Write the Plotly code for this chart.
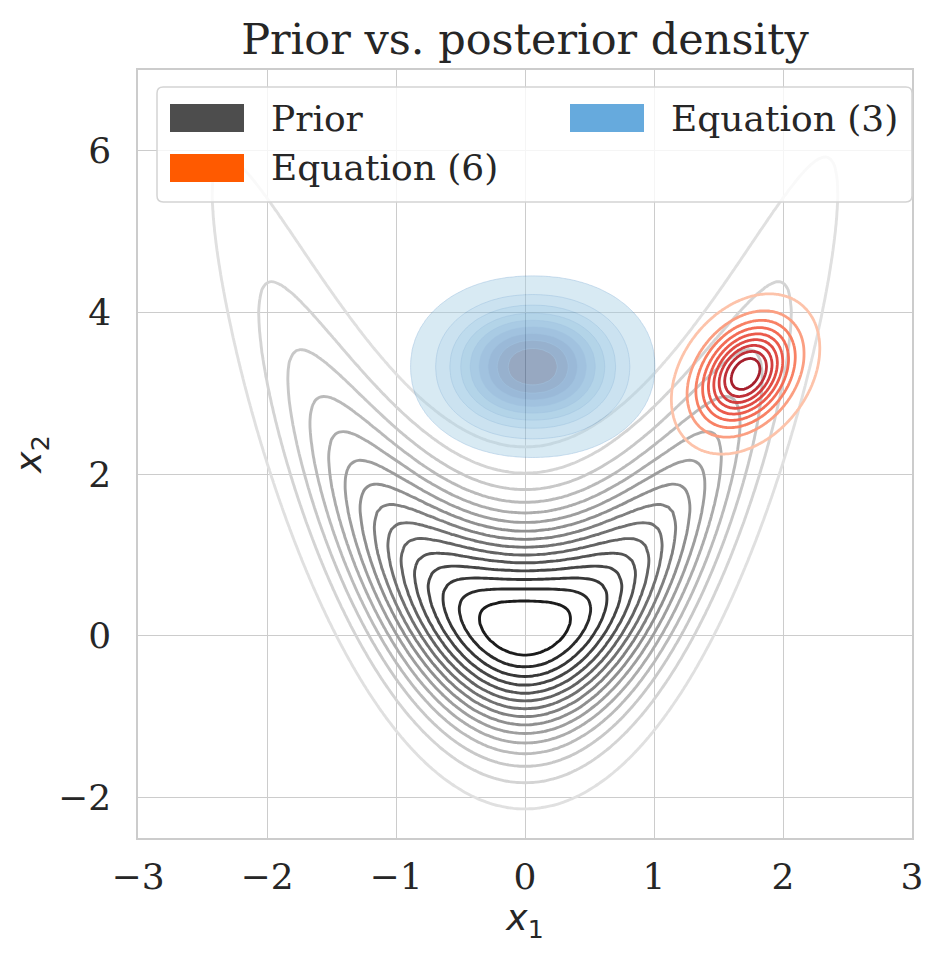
import numpy as np
import plotly.graph_objects as go

# prior: banana shaped, x1 ~ N(0, sd1) and x2 - bend * x1^2 ~ N(shift, sd2),
# smoothed with a kde-like gaussian kernel
prior_center = [0.0, 0.06]
prior_sd = [1.0, 0.84]
prior_bend = 1.0
prior_bandwidth = [0.2, 0.28]
prior_levels = 16

# posterior of Equation (3), filled contours (a little squarish, power > 2)
eq3_center = [0.06, 3.33]
eq3_scale = [0.414, 0.491]
eq3_power = 2.12
eq3_levels = 10

# posterior of Equation (6), line contours
eq6_center = [1.71, 3.24]
eq6_sd = [0.235, 0.405]
eq6_corr = 0.32
eq6_levels = 10

thresh = 0.05

legend_names = ["Prior", "Equation (6)", "Equation (3)"]
legend_colors = ["#4d4d4d", "#ff5a00", "#66aadd"]

x_ticks = [-3, -2, -1, 0, 1, 2, 3]
y_ticks = [-2, 0, 2, 4, 6]

grey_stops = ["#e0e0e0", "#c4c4c4", "#a3a3a3", "#808080", "#5e5e5e", "#3c3c3c", "#1c1c1c"]
red_stops = ["#fdc3aa", "#fb9a7c", "#f7795c", "#f06450", "#e55247", "#d74240", "#c2323a", "#a6202d"]
blues_cmap = ["#f7fbff", "#deebf7", "#c6dbef", "#9ecae1", "#6baed6", "#4292c6", "#2171b5", "#08519c", "#08306b"]


def hex_rgb(h):
    h = h.lstrip("#")
    return [int(h[i:i + 2], 16) for i in (0, 2, 4)]


def sample(stops, t):
    pos = t * (len(stops) - 1)
    i = min(int(pos), len(stops) - 2)
    f = pos - i
    a, b = hex_rgb(stops[i]), hex_rgb(stops[i + 1])
    c = [round(a[k] + (b[k] - a[k]) * f) for k in range(3)]
    return "rgb(%d,%d,%d)" % tuple(c)


def gauss2d(X, Y, c, sd, rho):
    u = (X - c[0]) / sd[0]
    v = (Y - c[1]) / sd[1]
    return np.exp(-0.5 * (u * u - 2 * rho * u * v + v * v) / (1 - rho ** 2))


def power2d(X, Y, c, sc, a):
    u = np.abs(X - c[0]) / sc[0]
    v = np.abs(Y - c[1]) / sc[1]
    return np.exp(-0.5 * (u ** a + v ** a))


def smooth(d, h, step, axis):
    n = int(4 * h / step)
    t = np.arange(-n, n + 1) * step
    k = np.exp(-0.5 * (t / h) ** 2)
    k /= k.sum()
    return np.apply_along_axis(lambda r: np.convolve(r, k, mode="same"), axis, d)


def proportions(d):
    # iso-proportion transform, like seaborn's kdeplot levels
    flat = np.sort(d.ravel())
    cum = np.cumsum(flat)
    cum /= cum[-1]
    return np.round(np.interp(d, flat, cum), 4)


def level_spec(levels):
    step = (1 - thresh) / (levels - 1)
    return dict(start=thresh, end=thresh + (levels - 2) * step, size=step)


# prior grid (wide, then cropped after smoothing)
gstep = 0.03
gx1 = np.arange(-4.5, 4.5 + 1e-9, gstep)
gx2 = np.arange(-4.5, 11.0 + 1e-9, gstep)
GX1, GX2 = np.meshgrid(gx1, gx2)
prior_d = (np.exp(-0.5 * ((GX1 - prior_center[0]) / prior_sd[0]) ** 2)
           * np.exp(-0.5 * ((GX2 - prior_bend * GX1 ** 2 - prior_center[1]) / prior_sd[1]) ** 2))
prior_d = smooth(prior_d, prior_bandwidth[0], gstep, 1)
prior_d = smooth(prior_d, prior_bandwidth[1], gstep, 0)
prior_q = proportions(prior_d)
keep_x = (gx1 >= -3.3) & (gx1 <= 3.3)
keep_y = (gx2 >= -2.9) & (gx2 <= 7.4)
px1, px2 = gx1[keep_x], gx2[keep_y]
prior_q = prior_q[np.ix_(keep_y, keep_x)]

# Equation (3) grid
bx1 = np.linspace(-1.7, 1.8, 176)
bx2 = np.linspace(1.3, 5.4, 206)
BX1, BX2 = np.meshgrid(bx1, bx2)
eq3_q = proportions(power2d(BX1, BX2, eq3_center, eq3_scale, eq3_power))

# Equation (6) grid
rx1 = np.linspace(0.7, 2.7, 161)
rx2 = np.linspace(1.6, 4.9, 221)
RX1, RX2 = np.meshgrid(rx1, rx2)
eq6_q = proportions(gauss2d(RX1, RX2, eq6_center, eq6_sd, eq6_corr))

fig = go.Figure()

fig.add_trace(go.Contour(
    x=px1, y=px2, z=prior_q, autocontour=False,
    contours=dict(coloring="lines", **level_spec(prior_levels)),
    colorscale=[[i / (len(grey_stops) - 1), c] for i, c in enumerate(grey_stops)],
    line=dict(width=2.9), showscale=False, hoverinfo="skip", showlegend=False))

nb = eq3_levels - 1
blue_scale = [[0, "rgba(255,255,255,0)"]]
for k in range(1, nb + 1):
    blue_scale.append([k / nb, sample(blues_cmap, 0.36 + 0.64 * (k - 1) / (nb - 1))])
fig.add_trace(go.Contour(
    x=bx1, y=bx2, z=eq3_q, autocontour=False,
    contours=dict(coloring="fill", **level_spec(eq3_levels)),
    colorscale=blue_scale, opacity=0.42,
    line=dict(width=0.9, color="rgba(33,113,181,0.6)"),
    showscale=False, hoverinfo="skip", showlegend=False))

fig.add_trace(go.Contour(
    x=rx1, y=rx2, z=eq6_q, autocontour=False,
    contours=dict(coloring="lines", **level_spec(eq6_levels)),
    colorscale=[[i / (len(red_stops) - 1), c] for i, c in enumerate(red_stops)],
    line=dict(width=2.8), showscale=False, hoverinfo="skip", showlegend=False))

# the page body has an 8px margin, so the figure is drawn 8px in and down
OFF = 8
L, R, T, B, W, H = 130, 32, 62, 120, 936, 950
PW, PH = W - L - R, H - T - B


def fx(p):
    return (p - OFF - L) / PW


def fy(p):
    return (H - B - (p - OFF)) / PH


shapes = []
x0, x1, y0, y1, rr = fx(157), fx(912), fy(202), fy(87), 0.008
shapes.append(dict(
    type="path", xref="paper", yref="paper",
    path=(f"M{x0 + rr},{y0} L{x1 - rr},{y0} Q{x1},{y0} {x1},{y0 + rr} "
          f"L{x1},{y1 - rr} Q{x1},{y1} {x1 - rr},{y1} L{x0 + rr},{y1} "
          f"Q{x0},{y1} {x0},{y1 - rr} L{x0},{y0 + rr} Q{x0},{y0} {x0 + rr},{y0} Z"),
    fillcolor="rgba(255,255,255,0.8)", line=dict(color="#d4d4d4", width=1.5), layer="above"))

annotations = []
slots = [(170, 118), (170, 168), (570, 118)]
for name, color, (sx, sy) in zip(legend_names, legend_colors, slots):
    shapes.append(dict(type="rect", xref="paper", yref="paper",
                       x0=fx(sx), x1=fx(sx + 74), y0=fy(sy + 14), y1=fy(sy - 14),
                       fillcolor=color, line=dict(width=0), layer="above"))
    annotations.append(dict(xref="paper", yref="paper", x=fx(sx + 99), y=fy(sy),
                            xanchor="left", yanchor="middle", showarrow=False,
                            text=name, font=dict(family="DejaVu Serif", size=36, color="#262626")))

axis_common = dict(showgrid=True, gridcolor="#cccccc", gridwidth=1.4, zeroline=False,
                   showline=True, mirror=True, linecolor="#cccccc", linewidth=1.5,
                   ticks="", tickfont=dict(family="DejaVu Serif", size=36, color="#262626"))

fig.update_layout(
    width=W, height=H,
    margin=dict(l=L, r=R, t=T, b=B),
    paper_bgcolor="white", plot_bgcolor="white",
    title=dict(text="Prior vs. posterior density", x=0.5, xref="paper", y=1 - (39 - OFF) / H,
               yref="container", xanchor="center", yanchor="middle",
               font=dict(family="DejaVu Serif", size=43, color="#262626")),
    xaxis=dict(range=[-3, 3], tickvals=x_ticks, ticklabelstandoff=6,
               title=dict(text="<i>x</i><sub>1</sub>", standoff=0,
                          font=dict(family="DejaVu Sans", size=36, color="#262626")),
               **axis_common),
    yaxis=dict(range=[-2.5, 7], tickvals=y_ticks, ticklabelstandoff=18,
               title=dict(text="<i>x</i><sub>2</sub>", standoff=6,
                          font=dict(family="DejaVu Sans", size=36, color="#262626")),
               **axis_common),
    shapes=shapes, annotations=annotations,
    showlegend=False,
)

fig.write_html("out.html")
